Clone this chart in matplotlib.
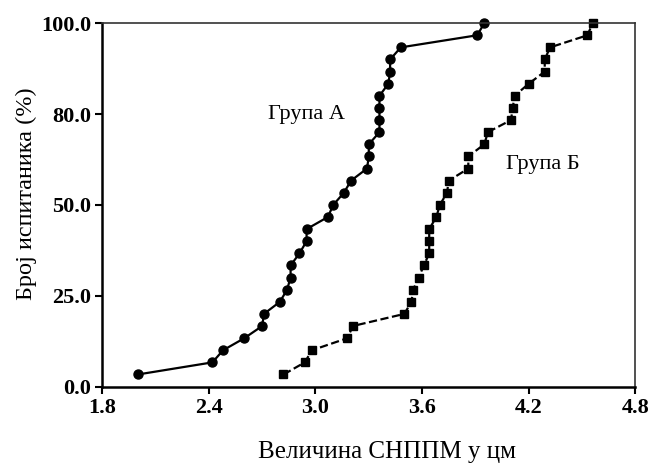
import matplotlib.pyplot as plt

plt.rcParams['font.family'] = ['Liberation Serif', 'DejaVu Serif']

# Cumulative share of subjects (%) for each sorted measurement, n = 30 per group
percent = [i / 30 * 100 for i in range(1, 31)]

group_a = [2.00, 2.42, 2.48, 2.60, 2.70, 2.71, 2.80, 2.84, 2.86, 2.86,
           2.91, 2.95, 2.95, 3.07, 3.10, 3.16, 3.20, 3.29, 3.30, 3.30,
           3.36, 3.36, 3.36, 3.36, 3.41, 3.42, 3.42, 3.48, 3.91, 3.95]
group_b = [2.82, 2.94, 2.98, 3.18, 3.21, 3.50, 3.54, 3.55, 3.58, 3.61,
           3.64, 3.64, 3.64, 3.68, 3.70, 3.74, 3.75, 3.86, 3.86, 3.95,
           3.97, 4.10, 4.11, 4.12, 4.20, 4.29, 4.29, 4.32, 4.53, 4.56]

x_ticks = [1.8, 2.4, 3.0, 3.6, 4.2, 4.8]
y_ticks = [0, 25, 50, 75, 100]
y_tick_labels = ['0.0', '25.0', '50.0', '80.0', '100.0']

fig = plt.figure(figsize=(6.51, 4.63), dpi=100)
ax = fig.add_axes([0.157, 0.165, 0.819, 0.785])

ax.plot(group_a, percent, color='black', linestyle='-', linewidth=1.6,
        marker='o', markersize=6.5, clip_on=False)
ax.plot(group_b, percent, color='black', linestyle='--', linewidth=1.6,
        marker='s', markersize=5.5, clip_on=False)

ax.text(2.95, 75, 'Група А', fontsize=16, ha='center', va='center')
ax.text(4.28, 61, 'Група Б', fontsize=16, ha='center', va='center')

ax.set_xlim(1.8, 4.8)
ax.set_ylim(0, 100)
ax.set_xticks(x_ticks)
ax.set_xticklabels([f'{v:.1f}' for v in x_ticks], fontsize=16, fontweight='bold')
ax.set_yticks(y_ticks)
ax.set_yticklabels(y_tick_labels, fontsize=16, fontweight='bold')
ax.tick_params(direction='out', length=5, width=1.5, pad=3)

ax.set_xlabel('Величина СНППМ у цм', fontsize=18, va='top')
ax.xaxis.set_label_coords(0.535, -0.15)
ax.set_ylabel('Број испитаника (%)', fontsize=17.5)
ax.yaxis.set_label_coords(-0.122, 0.53)

ax.spines['left'].set_linewidth(1.8)
ax.spines['bottom'].set_linewidth(1.8)
for side in ['top', 'right']:
    ax.spines[side].set_linewidth(1.2)
    ax.spines[side].set_color('#333333')

fig.savefig('out.png', dpi=100)
